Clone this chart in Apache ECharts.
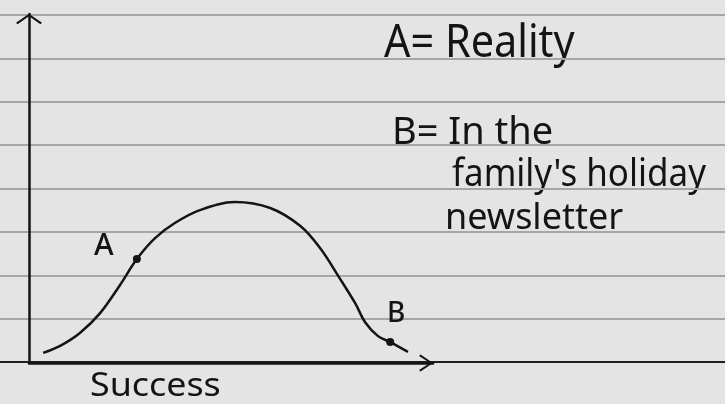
<!DOCTYPE html>
<html>
<head>
<meta charset="utf-8">
<script src="https://cdn.jsdelivr.net/npm/echarts@6/dist/echarts.min.js"></script>
<style>
  html, body { margin: 0; padding: 0; background: #e4e4e4; }
  #chart { width: 725px; height: 404px; }
</style>
</head>
<body>
<div id="chart"></div>
<script>
// Bell-shaped success curve, sampled along the x axis (0..100 scale)
const successX = [3.5, 7.7, 12.6, 17.6, 22.5, 26.7, 31.2, 36.1, 42.3, 51.0, 59.7, 67.1, 72.0, 77.0, 80.7, 83.2, 86.4, 89.4, 93.8];
const curveY   = [2.9, 4.9, 8.6, 14.3, 22.3, 29.8, 35.8, 40.1, 43.8, 46.1, 44.4, 39.3, 33.0, 24.1, 17.2, 11.7, 7.7, 6.0, 3.2];

// Marked points on the curve
const markNames = ['A', 'B'];
const markX = [26.7, 89.4];
const markY = [29.8, 6.0];

// Notebook ruling: number of gaps between ruled lines
const ruledRows = 8;

// Annotation text
const legendLines = ['A= Reality', 'B= In the', "family's holiday", 'newsletter'];
const xAxisTitle = 'Success';

const ink = '#141414';
// open chevron arrowheads, drawn pointing "up" (rotated by the axis)
const chevronY = 'path://M13,0 L26,9 L24.4,10.6 L13,2.6 L1.6,10.6 L0,9 Z';
const chevronX = 'path://M8.5,0 L17,12.4 L15.4,14 L8.5,3 L1.6,14 L0,12.4 Z';

const chart = echarts.init(document.getElementById('chart'), null, { renderer: 'canvas' });

const curveData = successX.map((x, i) => [x, curveY[i]]);
const markData = markNames.map((n, i) => ({ name: n, value: [markX[i], markY[i]] }));

const handFont = '"Noto Sans", "DejaVu Sans", sans-serif';

function textEl(str, left, midY, size, sx) {
  return {
    type: 'text',
    x: left, y: midY,
    scaleX: sx,
    silent: true,
    style: {
      text: str, x: 0, y: 0,
      fill: ink,
      font: 'normal ' + size + 'px ' + handFont,
      textAlign: 'left',
      textVerticalAlign: 'middle'
    }
  };
}

const option = {
  backgroundColor: '#e4e4e4',
  animation: false,
  grid: [
    { left: 0, right: 0, top: 15, bottom: 42 },       // ruled paper
    { left: 29, right: 292, top: 14, bottom: 41 }     // plot
  ],
  xAxis: [
    {
      gridIndex: 0, type: 'value', min: 0, max: 1, position: 'top',
      axisLine: { show: true, lineStyle: { color: '#1e1e1e', width: 2 } },
      axisTick: { show: false }, axisLabel: { show: false }, splitLine: { show: false }
    },
    {
      gridIndex: 1, type: 'value', min: 0, max: 100,
      axisLine: {
        show: true, symbol: ['none', chevronX], symbolSize: [17, 14], symbolOffset: [0, -7],
        lineStyle: { color: ink, width: 2.5 }
      },
      axisTick: { show: false }, axisLabel: { show: false }, splitLine: { show: false }
    }
  ],
  yAxis: [
    {
      gridIndex: 0, type: 'value', min: 0, max: ruledRows, interval: 1,
      axisLine: { show: false }, axisTick: { show: false }, axisLabel: { show: false },
      splitLine: { show: true, lineStyle: { color: '#a6a6a6', width: 2 } }
    },
    {
      gridIndex: 1, type: 'value', min: 0, max: 100,
      axisLine: {
        show: true, symbol: ['none', chevronY], symbolSize: [26, 10.6], symbolOffset: [0, -5],
        lineStyle: { color: ink, width: 2.5 }
      },
      axisTick: { show: false }, axisLabel: { show: false }, splitLine: { show: false }
    }
  ],
  series: [
    {
      type: 'line',
      xAxisIndex: 1, yAxisIndex: 1,
      data: curveData,
      smooth: 0.35,
      showSymbol: false,
      lineStyle: { color: ink, width: 2.5 },
      z: 3
    },
    {
      type: 'scatter',
      xAxisIndex: 1, yAxisIndex: 1,
      data: markData,
      symbolSize: 8,
      itemStyle: { color: ink, opacity: 1 },
      z: 4,
      label: {
        show: true,
        formatter: '{b}',
        position: 'inside',
        color: ink,
        opacity: 1,
        textBorderWidth: 0,
        fontFamily: handFont,
        fontWeight: 500,
        fontSize: 30
      },
      labelLayout: function (p) {
        return p.dataIndex === 0 ? { dx: -33, dy: -13 } : { dx: 6, dy: -28, fontSize: 28 };
      }
    }
  ],
  graphic: [
    textEl(legendLines[0], 384, 44, 46, 0.9),
    textEl(legendLines[1], 392, 133, 38, 1.0),
    textEl(legendLines[2], 452, 175, 38, 0.92),
    textEl(legendLines[3], 445, 219, 36, 1.0),
    textEl(xAxisTitle, 90, 387, 32, 1.12)
  ]
};

chart.setOption(option);
</script>
</body>
</html>
